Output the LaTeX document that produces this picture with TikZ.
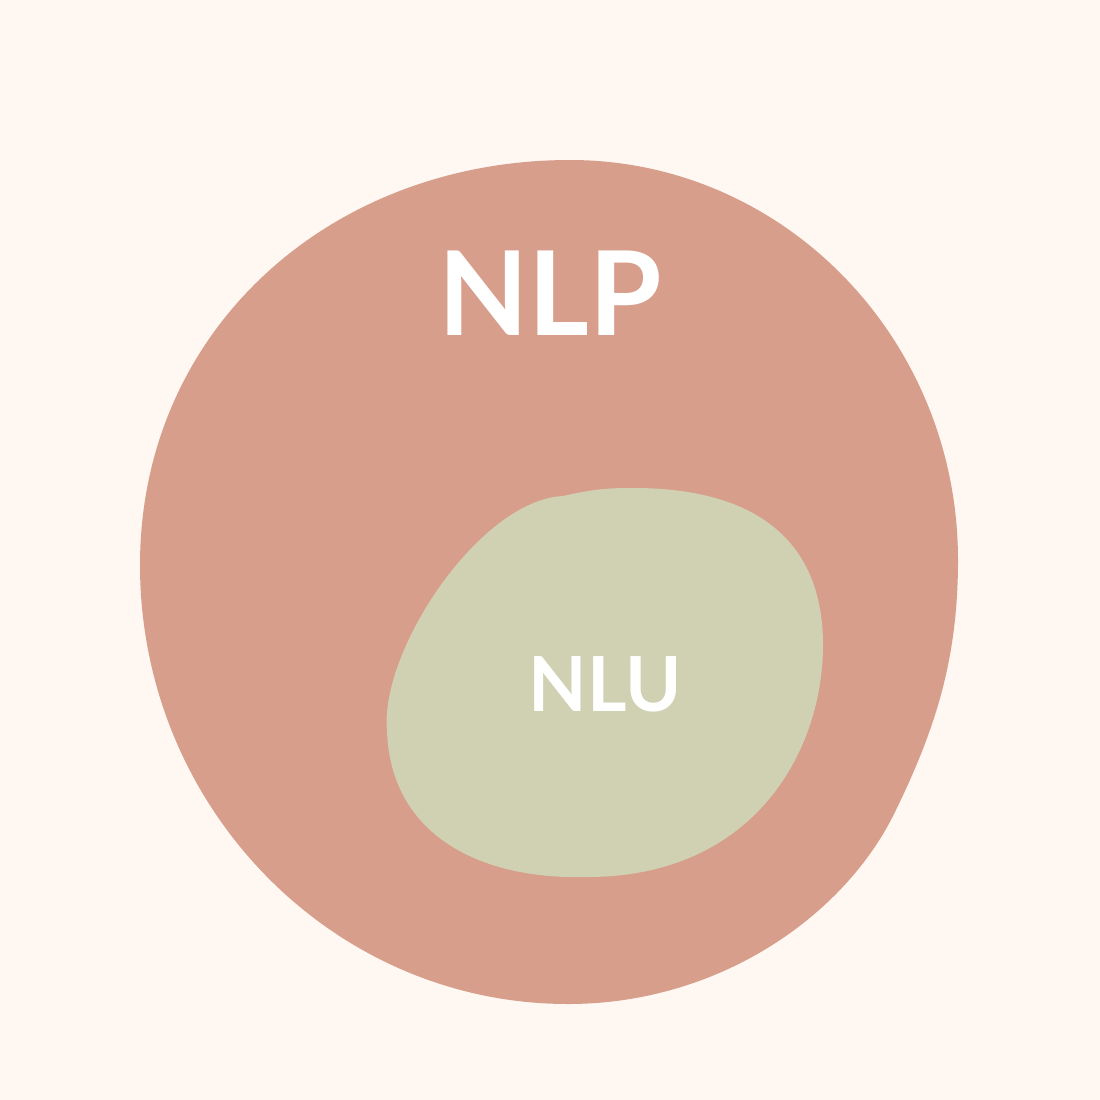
\documentclass[tikz,border=0pt]{standalone}
\usepackage{fontspec}
\setmainfont{Lato}
\definecolor{bg}{HTML}{FFF7F1}
\definecolor{salmon}{HTML}{D79E8C}
\definecolor{sage}{HTML}{D0D1B2}
\begin{document}
\begin{tikzpicture}[x=1pt,y=-1pt,
  lbl/.style={text=white,font=\bfseries,inner sep=0pt,anchor=center}]
\fill[bg] (0,0) rectangle (1100,1100);
\useasboundingbox (0,0) rectangle (1100,1100);
\fill[salmon] (570,160) .. controls (784,160) and (958,339) .. (958,560)
  .. controls (958,660) and (935,730) .. (895,812)
  .. controls (845,915) and (720,1004) .. (568,1004)
  .. controls (332,1004) and (140,807) .. (140,565)
  .. controls (140,330) and (330,160) .. (570,160) -- cycle;
\fill[sage] (630,488) .. controls (755,487) and (823,540) .. (823,645)
  .. controls (823,750) and (755,877) .. (587,877)
  .. controls (480,880) and (390,835) .. (387,730)
  .. controls (380,650) and (480,500) .. (563,496)
  .. controls (590,490) and (605,488) .. (630,488) -- cycle;
\node[lbl,font=\bfseries\fontsize{117}{117}\selectfont] (nlp) at (550,293) {NLP};
\node[lbl,font=\bfseries\fontsize{76}{76}\selectfont] (nlu) at (605,684) {NLU};
\end{tikzpicture}
\end{document}
